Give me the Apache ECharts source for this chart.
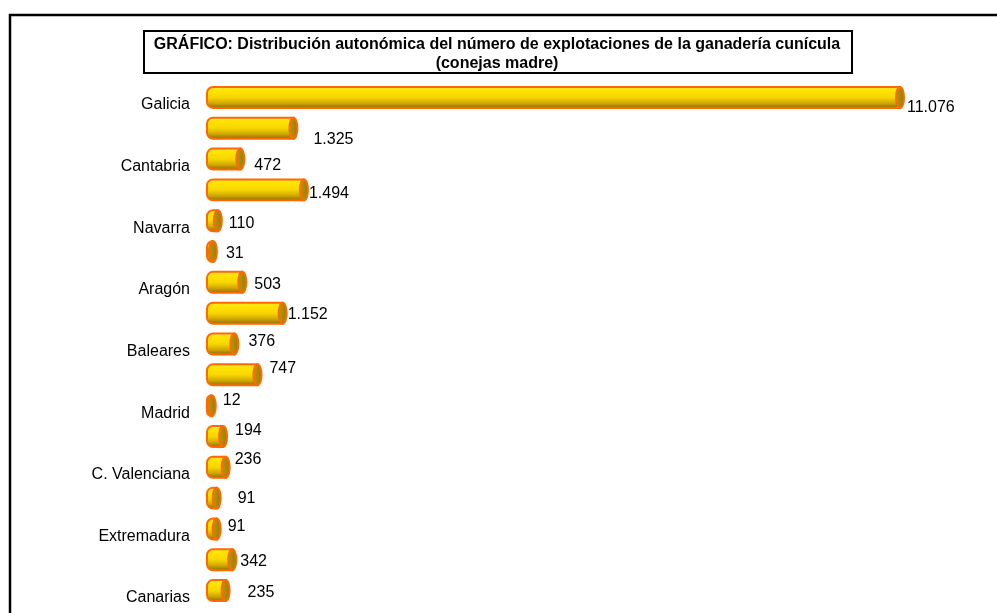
<!DOCTYPE html>
<html>
<head>
<meta charset="utf-8">
<script src="https://cdn.jsdelivr.net/npm/echarts@6/dist/echarts.min.js"></script>
<style>
  html, body { margin: 0; padding: 0; background: #fff; }
  #chart { width: 997px; height: 613px; }
</style>
</head>
<body>
<div id="chart"></div>
<script>
// Comunidades autónomas (only every other name is printed on the axis)
const regions = [
  'Galicia', 'Asturias', 'Cantabria', 'País Vasco', 'Navarra', 'La Rioja',
  'Aragón', 'Cataluña', 'Baleares', 'Castilla y León', 'Madrid',
  'Castilla-La Mancha', 'C. Valenciana', 'Murcia', 'Extremadura',
  'Andalucía', 'Canarias'
]
const farms = [11076, 1325, 472, 1494, 110, 31, 503, 1152, 376, 747, 12, 194, 236, 91, 91, 342, 235]

// hand-placed label nudges, like the original sheet [dx, dy] in px
const labelNudge = [
  [3, 10], [16, 11], [10, 7], [1, 4], [7, 3], [9, 2], [8, 2], [1, 1], [10, -2],
  [8, -6], [7, -5], [8, -6], [5, -8], [17, 0], [7, -2], [4, 2], [18, 2]
]

const title = 'GRÁFICO: Distribución autonómica del número de explotaciones de la ganadería cunícula\n(conejas madre)'

function fmt(v) {
  return String(v).replace(/\B(?=(\d{3})+(?!\d))/g, '.')
}

const chart = echarts.init(document.getElementById('chart'), null, { renderer: 'canvas' })

const CAP_RX = 4
const FONT = '"Liberation Sans", Arial, sans-serif'

const bodyFill = new echarts.graphic.LinearGradient(0, 0, 0, 1, [
  { offset: 0, color: '#ffe84a' },
  { offset: 0.2, color: '#ffe400' },
  { offset: 0.5, color: '#f8d600' },
  { offset: 0.75, color: '#d0a800' },
  { offset: 1, color: '#826200' }
])
const capFill = new echarts.graphic.LinearGradient(0, 0, 1, 0, [
  { offset: 0, color: '#c09a10' },
  { offset: 1, color: '#977800' }
])

function renderCylinder(params, api) {
  const i = params.dataIndex
  const start = api.coord([0, api.value(1)])
  const end = api.coord([api.value(0), api.value(1)])
  const h = api.size([0, 1])[1] * 0.68
  const cy = end[1]
  const nudge = labelNudge[i] || [4, 0]
  return {
    type: 'group',
    children: [
      {
        type: 'rect',
        shape: { x: start[0] - CAP_RX, y: cy - h / 2, width: end[0] - start[0] + CAP_RX, height: h, r: [6, 0, 0, 6] },
        style: { fill: bodyFill, stroke: '#ff6a00', lineWidth: 2 }
      },
      {
        type: 'ellipse',
        shape: { cx: end[0], cy: cy, rx: CAP_RX, ry: h / 2 },
        style: { fill: capFill, stroke: '#ff6a00', lineWidth: 2 }
      },
      {
        type: 'text',
        style: {
          text: fmt(api.value(0)),
          x: end[0] + CAP_RX + nudge[0],
          y: cy + nudge[1],
          verticalAlign: 'middle',
          fill: '#000',
          font: '16px ' + FONT
        }
      }
    ]
  }
}

chart.setOption({
  backgroundColor: '#fff',
  animation: false,
  grid: { left: 211, right: 97, top: 82, bottom: 7 },
  xAxis: {
    type: 'value',
    min: 0,
    max: 11076,
    show: false
  },
  yAxis: {
    type: 'category',
    data: regions,
    inverse: true,
    axisLine: { show: false },
    axisTick: { show: false },
    splitLine: { show: false },
    axisLabel: {
      interval: 1,
      margin: 21,
      color: '#000',
      fontSize: 16,
      fontFamily: FONT,
      verticalAlign: 'top',
      lineHeight: 15
    }
  },
  series: [
    {
      type: 'custom',
      renderItem: renderCylinder,
      encode: { x: 0, y: 1 },
      data: farms.map((v, i) => [v, i]),
      clip: false
    }
  ],
  graphic: [
    {
      type: 'rect',
      shape: { x: 10, y: 15, width: 1000, height: 620 },
      style: { fill: 'none', stroke: '#000', lineWidth: 2.5 },
      silent: true
    },
    {
      type: 'rect',
      shape: { x: 144, y: 31, width: 708, height: 42 },
      style: { fill: '#fff', stroke: '#000', lineWidth: 2 },
      silent: true
    },
    {
      type: 'text',
      x: 497,
      y: 54,
      style: {
        text: title,
        align: 'center',
        verticalAlign: 'middle',
        fill: '#000',
        lineHeight: 19,
        font: 'bold 16px ' + FONT
      },
      silent: true
    }
  ]
})
</script>
</body>
</html>
